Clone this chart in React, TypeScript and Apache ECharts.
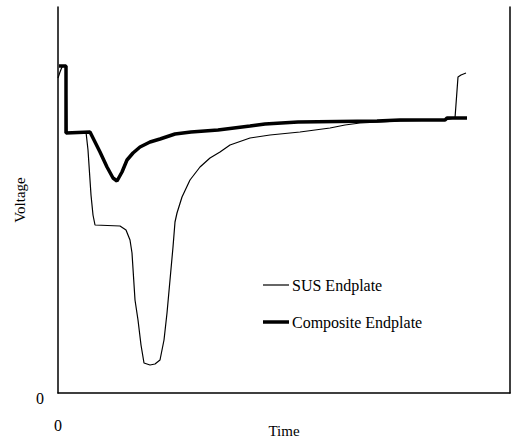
import React, { useEffect, useRef } from "react";
import * as echarts from "echarts";

// Time (arbitrary units from origin) and Voltage (arbitrary units from 0)
const susTime = [0, 2, 4, 6, 8, 9, 28, 30, 33, 35, 37, 62, 68, 72, 74, 77, 80, 83, 86, 92, 97, 102, 106, 109, 112, 115, 117, 119, 124, 132, 142, 152, 162, 172, 192, 212, 242, 272, 287, 302, 342, 387, 397, 400, 403, 408];
const susVolt = [315, 321, 326, 327, 327, 260, 261, 243, 198, 178, 168, 167, 163, 153, 140, 93, 73, 48, 30, 28, 29, 33, 53, 80, 113, 146, 171, 180, 196, 213, 226, 235, 241, 248, 255, 258, 261, 265, 268, 270, 272, 273, 275, 316, 318, 320];
const compTime = [1, 8, 8, 32, 42, 49, 55, 59, 64, 69, 75, 82, 92, 102, 117, 133, 160, 192, 207, 240, 319, 342, 387, 389, 409];
const compVolt = [327, 327, 260, 261, 241, 226, 215, 212, 221, 233, 240, 246, 251, 254, 259, 261, 263, 267, 269, 271, 272, 273, 273, 275, 275];
const seriesNames = ["SUS Endplate", "Composite Endplate"];

const xMax = 452;
const yMax = 386;
const font = "Liberation Serif";

export default function App() {
  const ref = useRef<HTMLDivElement>(null);
  useEffect(() => {
    if (!ref.current) return;
    const chart = echarts.init(ref.current, null, { renderer: "svg" });
    const legendRows = [
      { y: 285, width: 1.2 },
      { y: 322, width: 3.5 },
    ];
    chart.setOption({
      animation: false,
      backgroundColor: "#fff",
      textStyle: { fontFamily: font, color: "#000" },
      grid: { left: 58, right: 1, top: 7, bottom: 47, outerBoundsMode: "none", containLabel: false },
      graphic: legendRows.flatMap((r, i) => [
        {
          type: "line",
          shape: { x1: 263, y1: r.y, x2: 289, y2: r.y },
          style: { stroke: "#000", lineWidth: r.width },
        },
        {
          type: "text",
          x: 292,
          y: r.y,
          style: {
            text: seriesNames[i],
            font: `16px "${font}"`,
            fill: "#000",
            verticalAlign: "middle",
            align: "left",
          },
        },
      ]),
      xAxis: {
        type: "value",
        min: 0,
        max: xMax,
        name: "Time",
        nameLocation: "middle",
        nameGap: 30,
        nameMoveOverlap: false,
        nameTextStyle: { fontFamily: font, fontSize: 15, color: "#000" },
        axisLine: { show: true, lineStyle: { color: "#000", width: 1.5 } },
        axisTick: { show: false },
        splitLine: { show: false },
        axisLabel: {
          margin: 24,
          fontFamily: font,
          fontSize: 16,
          color: "#000",
          formatter: (v: number) => (v === 0 ? "0" : ""),
          showMaxLabel: false,
        },
      },
      yAxis: [
        {
          type: "value",
          min: 0,
          max: yMax,
          name: "Voltage",
          nameLocation: "middle",
          nameGap: 31,
          nameMoveOverlap: false,
          nameTextStyle: { fontFamily: font, fontSize: 15, color: "#000" },
          axisLine: { show: true, lineStyle: { color: "#000", width: 1.5 } },
          axisTick: { show: false },
          splitLine: { show: false },
          axisLabel: {
            margin: 14,
            verticalAlign: "top",
            lineHeight: 10,
            fontFamily: font,
            fontSize: 16,
            color: "#000",
            formatter: (v: number) => (v === 0 ? "0" : ""),
            showMaxLabel: false,
          },
        },
        {
          type: "value",
          position: "right",
          min: 0,
          max: yMax,
          axisLine: { show: true, lineStyle: { color: "#000", width: 1.5 } },
          axisTick: { show: false },
          axisLabel: { show: false },
          splitLine: { show: false },
        },
      ],
      series: [
        {
          name: seriesNames[0],
          type: "line",
          symbol: "none",
          data: susTime.map((t, i) => [t, susVolt[i]]),
          lineStyle: { color: "#000", width: 1.2 },
          itemStyle: { color: "#000" },
          z: 2,
        },
        {
          name: seriesNames[1],
          type: "line",
          symbol: "none",
          data: compTime.map((t, i) => [t, compVolt[i]]),
          lineStyle: { color: "#000", width: 3.5 },
          itemStyle: { color: "#000" },
          z: 3,
        },
      ],
    });
    return () => chart.dispose();
  }, []);
  return <div ref={ref} style={{ width: 511, height: 440, position: "absolute", left: 0, top: 0 }} />;
}
